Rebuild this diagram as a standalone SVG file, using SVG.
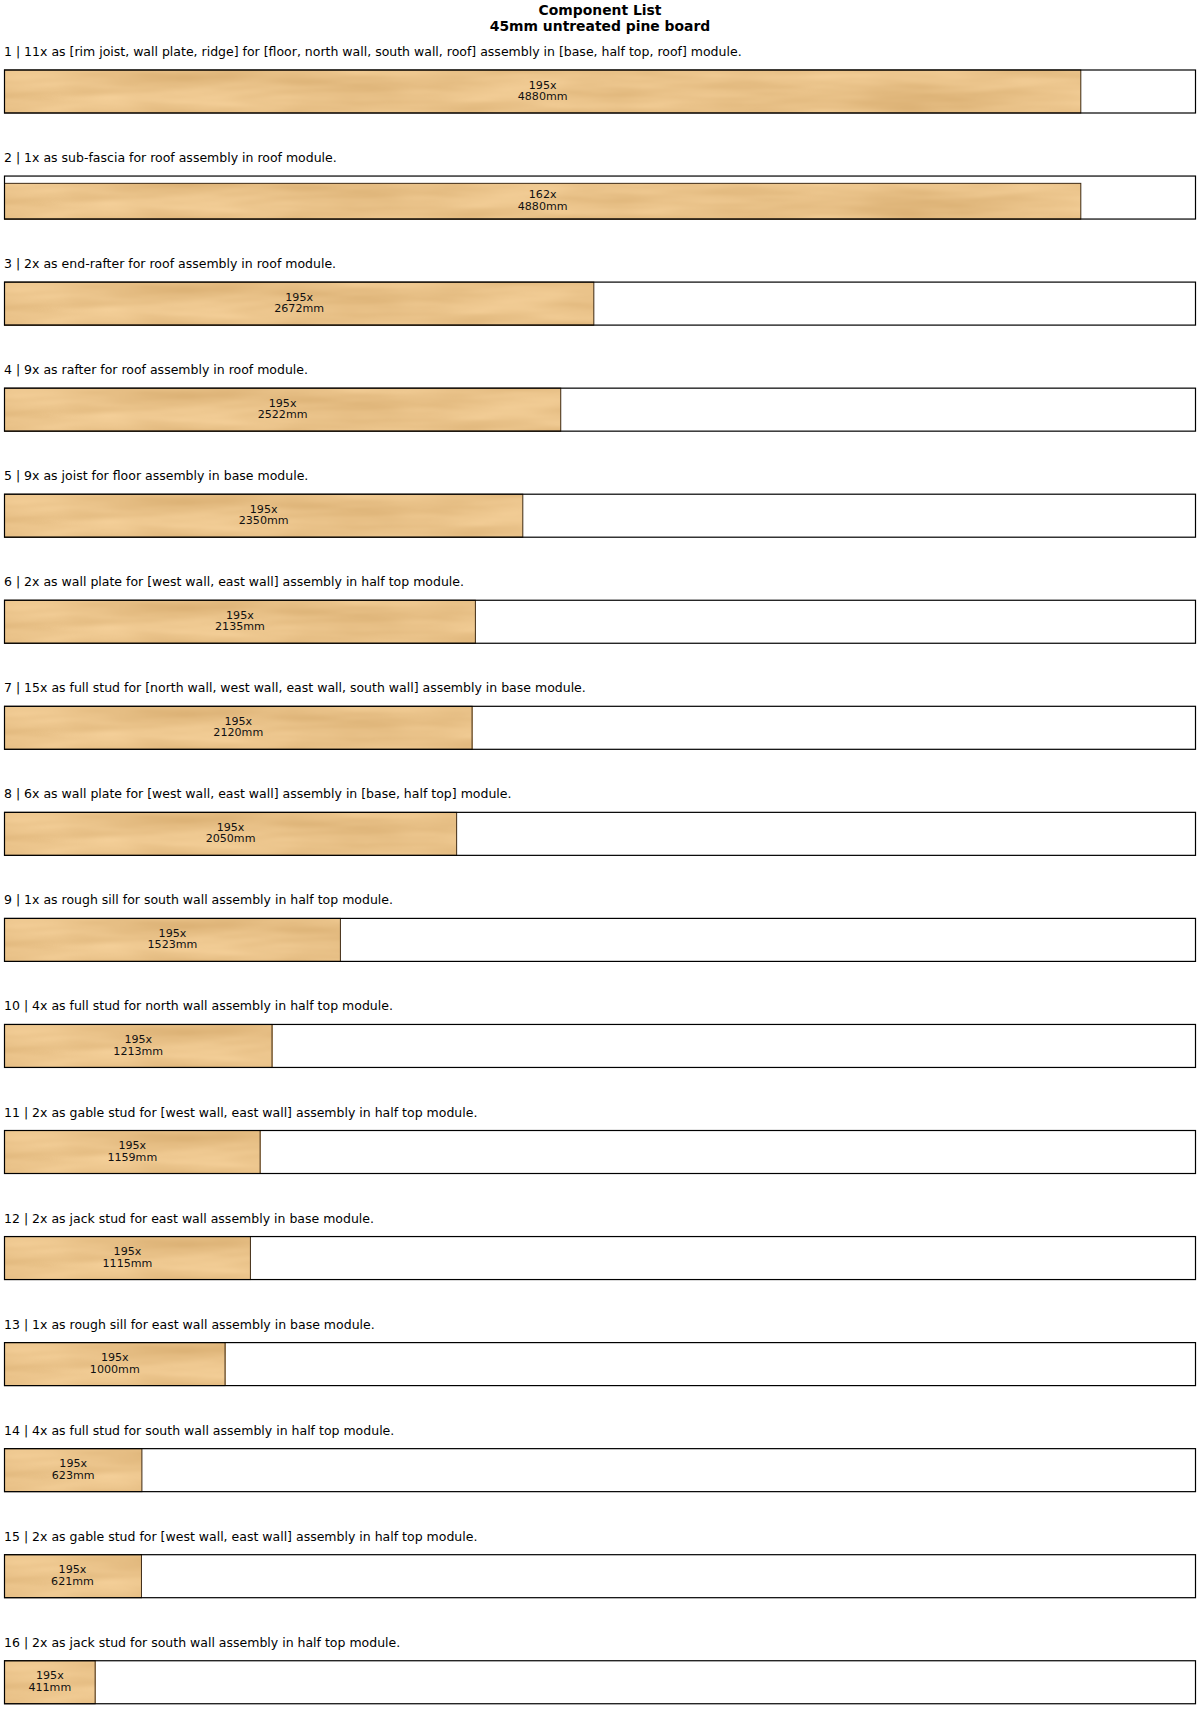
<svg xmlns="http://www.w3.org/2000/svg" width="1200" height="1736" viewBox="0 0 1200 1736">
<style>
.title{font-family:"DejaVu Sans",sans-serif;font-weight:bold;font-size:13.9px;fill:#000;text-anchor:middle}
.lbl{font-family:"DejaVu Sans",sans-serif;font-size:12.5px;fill:#000}
.dim{font-family:"DejaVu Sans",sans-serif;font-size:11.1px;fill:#111;text-anchor:middle}
.stock{fill:#fff;stroke:none}
.stockedge{fill:none;stroke:#000;stroke-width:1.2}
.wood{fill:#E9C089;filter:url(#grain)}
.woodedge{fill:none;stroke:#3f2d1a;stroke-width:1}
</style>
<defs>
<filter id="grain" x="0" y="0" width="1" height="1" color-interpolation-filters="sRGB">
<feTurbulence type="fractalNoise" baseFrequency="0.007 0.05" numOctaves="3" seed="11"/>
<feColorMatrix type="matrix" values="0.13 0 0 0 0.845  0.16 0 0 0 0.675  0.19 0 0 0 0.435  0 0 0 0 1"/>
</filter>
</defs>
<rect width="1200" height="1736" fill="#fff"/>
<g id="title">
<text class="title" x="600" y="15">Component List</text>
<text class="title" x="600" y="30.5">45mm untreated pine board</text>
</g>
<g id="connectors"></g>

<g id="board-1" transform="translate(0,70)">
<text class="lbl" x="4" y="-14">1 | 11x as [rim joist, wall plate, ridge] for [floor, north wall, south wall, roof] assembly in [base, half top, roof] module.</text>
<rect class="stock" x="4.5" y="0" width="1191" height="43"/>
<rect class="wood" x="4.5" y="0" width="1076.31" height="43"/>
<rect class="woodedge" x="4.5" y="0" width="1076.31" height="43"/>
<rect class="stockedge" x="4.5" y="0" width="1191" height="43"/>
<text class="dim" x="542.65" y="18.7">195x</text>
<text class="dim" x="542.65" y="30.1">4880mm</text>
</g>

<g id="board-2" transform="translate(0,176.05)">
<text class="lbl" x="4" y="-14">2 | 1x as sub-fascia for roof assembly in roof module.</text>
<rect class="stock" x="4.5" y="0" width="1191" height="43"/>
<rect class="wood" x="4.5" y="7.3" width="1076.31" height="35.7"/>
<rect class="woodedge" x="4.5" y="7.3" width="1076.31" height="35.7"/>
<rect class="stockedge" x="4.5" y="0" width="1191" height="43"/>
<text class="dim" x="542.65" y="22.4">162x</text>
<text class="dim" x="542.65" y="33.8">4880mm</text>
</g>

<g id="board-3" transform="translate(0,282.1)">
<text class="lbl" x="4" y="-14">3 | 2x as end-rafter for roof assembly in roof module.</text>
<rect class="stock" x="4.5" y="0" width="1191" height="43"/>
<rect class="wood" x="4.5" y="0" width="589.33" height="43"/>
<rect class="woodedge" x="4.5" y="0" width="589.33" height="43"/>
<rect class="stockedge" x="4.5" y="0" width="1191" height="43"/>
<text class="dim" x="299.17" y="18.7">195x</text>
<text class="dim" x="299.17" y="30.1">2672mm</text>
</g>

<g id="board-4" transform="translate(0,388.15)">
<text class="lbl" x="4" y="-14">4 | 9x as rafter for roof assembly in roof module.</text>
<rect class="stock" x="4.5" y="0" width="1191" height="43"/>
<rect class="wood" x="4.5" y="0" width="556.24" height="43"/>
<rect class="woodedge" x="4.5" y="0" width="556.24" height="43"/>
<rect class="stockedge" x="4.5" y="0" width="1191" height="43"/>
<text class="dim" x="282.62" y="18.7">195x</text>
<text class="dim" x="282.62" y="30.1">2522mm</text>
</g>

<g id="board-5" transform="translate(0,494.2)">
<text class="lbl" x="4" y="-14">5 | 9x as joist for floor assembly in base module.</text>
<rect class="stock" x="4.5" y="0" width="1191" height="43"/>
<rect class="wood" x="4.5" y="0" width="518.31" height="43"/>
<rect class="woodedge" x="4.5" y="0" width="518.31" height="43"/>
<rect class="stockedge" x="4.5" y="0" width="1191" height="43"/>
<text class="dim" x="263.66" y="18.7">195x</text>
<text class="dim" x="263.66" y="30.1">2350mm</text>
</g>

<g id="board-6" transform="translate(0,600.25)">
<text class="lbl" x="4" y="-14">6 | 2x as wall plate for [west wall, east wall] assembly in half top module.</text>
<rect class="stock" x="4.5" y="0" width="1191" height="43"/>
<rect class="wood" x="4.5" y="0" width="470.89" height="43"/>
<rect class="woodedge" x="4.5" y="0" width="470.89" height="43"/>
<rect class="stockedge" x="4.5" y="0" width="1191" height="43"/>
<text class="dim" x="239.95" y="18.7">195x</text>
<text class="dim" x="239.95" y="30.1">2135mm</text>
</g>

<g id="board-7" transform="translate(0,706.3)">
<text class="lbl" x="4" y="-14">7 | 15x as full stud for [north wall, west wall, east wall, south wall] assembly in base module.</text>
<rect class="stock" x="4.5" y="0" width="1191" height="43"/>
<rect class="wood" x="4.5" y="0" width="467.58" height="43"/>
<rect class="woodedge" x="4.5" y="0" width="467.58" height="43"/>
<rect class="stockedge" x="4.5" y="0" width="1191" height="43"/>
<text class="dim" x="238.29" y="18.7">195x</text>
<text class="dim" x="238.29" y="30.1">2120mm</text>
</g>

<g id="board-8" transform="translate(0,812.35)">
<text class="lbl" x="4" y="-14">8 | 6x as wall plate for [west wall, east wall] assembly in [base, half top] module.</text>
<rect class="stock" x="4.5" y="0" width="1191" height="43"/>
<rect class="wood" x="4.5" y="0" width="452.14" height="43"/>
<rect class="woodedge" x="4.5" y="0" width="452.14" height="43"/>
<rect class="stockedge" x="4.5" y="0" width="1191" height="43"/>
<text class="dim" x="230.57" y="18.7">195x</text>
<text class="dim" x="230.57" y="30.1">2050mm</text>
</g>

<g id="board-9" transform="translate(0,918.4)">
<text class="lbl" x="4" y="-14">9 | 1x as rough sill for south wall assembly in half top module.</text>
<rect class="stock" x="4.5" y="0" width="1191" height="43"/>
<rect class="wood" x="4.5" y="0" width="335.91" height="43"/>
<rect class="woodedge" x="4.5" y="0" width="335.91" height="43"/>
<rect class="stockedge" x="4.5" y="0" width="1191" height="43"/>
<text class="dim" x="172.46" y="18.7">195x</text>
<text class="dim" x="172.46" y="30.1">1523mm</text>
</g>

<g id="board-10" transform="translate(0,1024.45)">
<text class="lbl" x="4" y="-14">10 | 4x as full stud for north wall assembly in half top module.</text>
<rect class="stock" x="4.5" y="0" width="1191" height="43"/>
<rect class="wood" x="4.5" y="0" width="267.53" height="43"/>
<rect class="woodedge" x="4.5" y="0" width="267.53" height="43"/>
<rect class="stockedge" x="4.5" y="0" width="1191" height="43"/>
<text class="dim" x="138.27" y="18.7">195x</text>
<text class="dim" x="138.27" y="30.1">1213mm</text>
</g>

<g id="board-11" transform="translate(0,1130.5)">
<text class="lbl" x="4" y="-14">11 | 2x as gable stud for [west wall, east wall] assembly in half top module.</text>
<rect class="stock" x="4.5" y="0" width="1191" height="43"/>
<rect class="wood" x="4.5" y="0" width="255.62" height="43"/>
<rect class="woodedge" x="4.5" y="0" width="255.62" height="43"/>
<rect class="stockedge" x="4.5" y="0" width="1191" height="43"/>
<text class="dim" x="132.31" y="18.7">195x</text>
<text class="dim" x="132.31" y="30.1">1159mm</text>
</g>

<g id="board-12" transform="translate(0,1236.55)">
<text class="lbl" x="4" y="-14">12 | 2x as jack stud for east wall assembly in base module.</text>
<rect class="stock" x="4.5" y="0" width="1191" height="43"/>
<rect class="wood" x="4.5" y="0" width="245.92" height="43"/>
<rect class="woodedge" x="4.5" y="0" width="245.92" height="43"/>
<rect class="stockedge" x="4.5" y="0" width="1191" height="43"/>
<text class="dim" x="127.46" y="18.7">195x</text>
<text class="dim" x="127.46" y="30.1">1115mm</text>
</g>

<g id="board-13" transform="translate(0,1342.6)">
<text class="lbl" x="4" y="-14">13 | 1x as rough sill for east wall assembly in base module.</text>
<rect class="stock" x="4.5" y="0" width="1191" height="43"/>
<rect class="wood" x="4.5" y="0" width="220.56" height="43"/>
<rect class="woodedge" x="4.5" y="0" width="220.56" height="43"/>
<rect class="stockedge" x="4.5" y="0" width="1191" height="43"/>
<text class="dim" x="114.78" y="18.7">195x</text>
<text class="dim" x="114.78" y="30.1">1000mm</text>
</g>

<g id="board-14" transform="translate(0,1448.65)">
<text class="lbl" x="4" y="-14">14 | 4x as full stud for south wall assembly in half top module.</text>
<rect class="stock" x="4.5" y="0" width="1191" height="43"/>
<rect class="wood" x="4.5" y="0" width="137.41" height="43"/>
<rect class="woodedge" x="4.5" y="0" width="137.41" height="43"/>
<rect class="stockedge" x="4.5" y="0" width="1191" height="43"/>
<text class="dim" x="73.21" y="18.7">195x</text>
<text class="dim" x="73.21" y="30.1">623mm</text>
</g>

<g id="board-15" transform="translate(0,1554.7)">
<text class="lbl" x="4" y="-14">15 | 2x as gable stud for [west wall, east wall] assembly in half top module.</text>
<rect class="stock" x="4.5" y="0" width="1191" height="43"/>
<rect class="wood" x="4.5" y="0" width="136.97" height="43"/>
<rect class="woodedge" x="4.5" y="0" width="136.97" height="43"/>
<rect class="stockedge" x="4.5" y="0" width="1191" height="43"/>
<text class="dim" x="72.49" y="18.7">195x</text>
<text class="dim" x="72.49" y="30.1">621mm</text>
</g>

<g id="board-16" transform="translate(0,1660.75)">
<text class="lbl" x="4" y="-14">16 | 2x as jack stud for south wall assembly in half top module.</text>
<rect class="stock" x="4.5" y="0" width="1191" height="43"/>
<rect class="wood" x="4.5" y="0" width="90.65" height="43"/>
<rect class="woodedge" x="4.5" y="0" width="90.65" height="43"/>
<rect class="stockedge" x="4.5" y="0" width="1191" height="43"/>
<text class="dim" x="49.83" y="18.7">195x</text>
<text class="dim" x="49.83" y="30.1">411mm</text>
</g>
</svg>
